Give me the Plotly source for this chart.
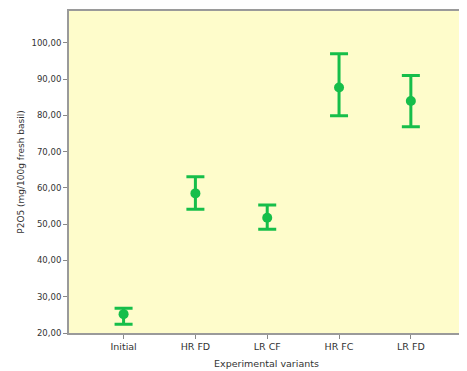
import plotly.graph_objects as go

categories = ["Initial", "HR FD", "LR CF", "HR FC", "LR FD"]
means = [25.2, 58.5, 51.8, 87.7, 84.0]
upper = [26.8, 63.1, 55.3, 97.0, 91.0]
lower = [22.4, 54.1, 48.6, 79.9, 76.9]
y_ticks = [20, 30, 40, 50, 60, 70, 80, 90, 100]
y_tick_labels = ["20,00", "30,00", "40,00", "50,00", "60,00", "70,00", "80,00", "90,00", "100,00"]

green = "#16BE4A"
x_idx = list(range(len(categories)))

fig = go.Figure()
fig.add_trace(go.Scatter(
    x=x_idx, y=means, mode="markers",
    marker=dict(color=green, size=10),
    error_y=dict(type="data", symmetric=False,
                 array=[u - m for u, m in zip(upper, means)],
                 arrayminus=[m - l for m, l in zip(means, lower)],
                 color=green, thickness=3, width=9),
    showlegend=False,
))

fig.update_layout(
    width=459, height=363,
    margin=dict(l=61, r=1, t=3, b=38),
    paper_bgcolor="white",
    plot_bgcolor="#FEFCCB",
    font=dict(family="DejaVu Sans, sans-serif", size=9, color="#333"),
    xaxis=dict(
        tickmode="array", tickvals=x_idx, ticktext=categories,
        range=[-0.76, 4.74], showgrid=False, zeroline=False,
        showline=True, linecolor="#9a9a9a", linewidth=2, mirror=True,
        ticks="outside", ticklen=4, tickcolor="#888",
        tickfont=dict(size=9.5),
        title=dict(text="Experimental variants", font=dict(size=9.5), standoff=9),
    ),
    yaxis=dict(
        tickmode="array", tickvals=y_ticks, ticktext=y_tick_labels,
        range=[20, 108.8], showgrid=False, zeroline=False,
        showline=True, linecolor="#9a9a9a", linewidth=2, mirror=True,
        ticks="outside", ticklen=4, tickcolor="#888",
        tickfont=dict(size=8.5),
        title=dict(text="P2O5 (mg/100g fresh basil)", font=dict(size=9), standoff=5),
    ),
)

fig.write_html("out.html")
